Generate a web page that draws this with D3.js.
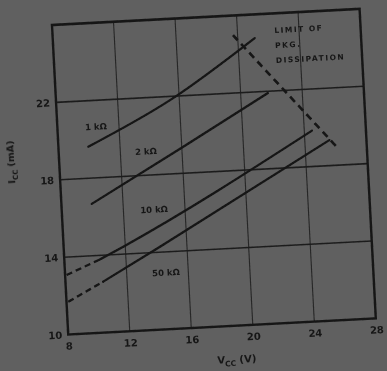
<!DOCTYPE html>
<html><head><meta charset="utf-8">
<script src="https://cdn.jsdelivr.net/npm/d3@7"></script>
<style>
html,body{margin:0;padding:0;background:#5f5f5f;}
svg{display:block;}
text{font-family:"DejaVu Sans",sans-serif;font-weight:bold;fill:#161616;}
</style></head><body>
<div id="chart"></div>
<script>
// ---- data ----
const xTicks = [8, 12, 16, 20, 24, 28];
const yTicks = [10, 14, 18, 22];
const xDomain = [8, 28];
const yDomain = [10, 26];
const seriesNames = ["1 kΩ", "2 kΩ", "10 kΩ", "50 kΩ"];
// [Vcc (V), Icc (mA)]
const line1Solid = [[9.94, 19.63], [15.4, 21.81], [21.1, 24.78]];
const line2Solid = [[9.97, 16.67], [16.1, 19.37], [21.77, 21.91]];
const line3Dashed = [[8.1, 13.08], [10.3, 13.78]];
const line3Solid = [[10.3, 13.78], [11.87, 14.38], [24.5, 19.85]];
const line4Dashed = [[8.12, 11.69], [10.44, 12.63]];
const line4Solid = [[10.44, 12.63], [14.25, 14.28], [25.6, 19.32]];
const powerLimit = [[19.7, 24.99], [26.06, 18.94]];
const labelPos = [[10.5, 20.62], [13.66, 19.2], [13.99, 16.19], [14.55, 12.91]];
const legendLines = ["LIMIT OF", "PKG.", "DISSIPATION"];

// ---- drawing ----
const W = 387, H = 371;
const pw = 308, ph = 310;
const svg = d3.select("#chart").append("svg").attr("width", W).attr("height", H);
const defs = svg.append("defs");
defs.append("filter").attr("id", "blur").append("feGaussianBlur").attr("stdDeviation", 0.65);

svg.append("rect").attr("width", W).attr("height", H).attr("fill", "#606060");

const root = svg.append("g").attr("filter", "url(#blur)");
const g = root.append("g").attr("transform", "translate(52,25) rotate(-3)");

const x = d3.scaleLinear().domain(xDomain).range([0, pw]);
const y = d3.scaleLinear().domain(yDomain).range([ph, 0]);

// grid
g.selectAll(".vg").data(xTicks.slice(1, -1)).join("line")
  .attr("x1", d => x(d)).attr("x2", d => x(d)).attr("y1", 0).attr("y2", ph)
  .attr("stroke", "#262626").attr("stroke-width", 1.1);
g.selectAll(".hg").data(yTicks.slice(1)).join("line")
  .attr("x1", 0).attr("x2", pw).attr("y1", d => y(d)).attr("y2", d => y(d))
  .attr("stroke", "#1e1e1e").attr("stroke-width", 1.6);

// frame
g.append("rect").attr("x", 0).attr("y", 0).attr("width", pw).attr("height", ph)
  .attr("fill", "none").attr("stroke", "#161616").attr("stroke-width", 2.4);

// axes
const xa = g.append("g").attr("transform", `translate(0,${ph})`)
  .call(d3.axisBottom(x).tickValues(xTicks).tickSize(0).tickPadding(8).tickFormat(d3.format("d")));
const ya = g.append("g")
  .call(d3.axisLeft(y).tickValues(yTicks).tickSize(0).tickPadding(6).tickFormat(d3.format("d")));
[xa, ya].forEach(a => {
  a.select(".domain").remove();
  a.selectAll("text").attr("font-size", 10).attr("font-family", "DejaVu Sans").attr("font-weight", "bold").attr("fill", "#161616");
});

// lines
const line = d3.line().x(d => x(d[0])).y(d => y(d[1])).curve(d3.curveMonotoneX);
[line1Solid, line2Solid, line3Solid, line4Solid].forEach(s => {
  g.append("path").attr("d", line(s)).attr("fill", "none")
    .attr("stroke", "#141414").attr("stroke-width", 2.2).attr("stroke-linecap", "round");
});
[line3Dashed, line4Dashed].forEach(s => {
  g.append("path").attr("d", line(s)).attr("fill", "none")
    .attr("stroke", "#141414").attr("stroke-width", 2.2).attr("stroke-dasharray", "6,4");
});
g.append("path").attr("d", line(powerLimit)).attr("fill", "none")
  .attr("stroke", "#141414").attr("stroke-width", 2.6).attr("stroke-dasharray", "7,5");

// series labels
g.selectAll(".sl").data(seriesNames).join("text")
  .attr("x", (d, i) => x(labelPos[i][0])).attr("y", (d, i) => y(labelPos[i][1]))
  .attr("text-anchor", "middle").attr("dominant-baseline", "middle")
  .attr("font-size", 8.5).text(d => d);

// legend text
g.selectAll(".lg").data(legendLines).join("text")
  .attr("x", x(22.4)).attr("y", (d, i) => y(25.14) + 3 + i * 15)
  .attr("font-size", 7.5).attr("letter-spacing", 1.5).text(d => d);

// axis titles
const yt = g.append("text").attr("transform", `translate(-45,${ph * 0.435}) rotate(-90)`)
  .attr("text-anchor", "middle").attr("font-size", 9.5);
yt.append("tspan").text("I");
yt.append("tspan").attr("font-size", 7).attr("dy", 3).text("CC");
yt.append("tspan").attr("dy", -3).text(" (mA)");

const xt = g.append("text").attr("x", 167).attr("y", ph + 37)
  .attr("text-anchor", "middle").attr("font-size", 10);
xt.append("tspan").text("V");
xt.append("tspan").attr("font-size", 7.5).attr("dy", 3).text("CC");
xt.append("tspan").attr("dy", -3).text(" (V)");
</script>
</body></html>
